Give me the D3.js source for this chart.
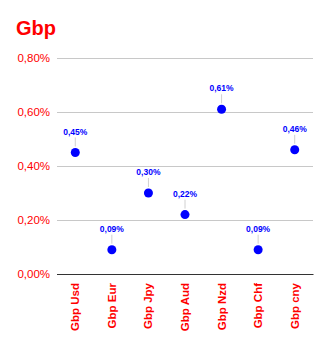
<!DOCTYPE html>
<html><head><meta charset="utf-8">
<script src="https://cdn.jsdelivr.net/npm/d3@7"></script>
<style>body{margin:0;background:#fff}svg{display:block}</style>
</head><body>
<script>
const categories = ["Gbp Usd","Gbp Eur","Gbp Jpy","Gbp Aud","Gbp Nzd","Gbp Chf","Gbp cny"];
const values = [0.45,0.09,0.30,0.22,0.61,0.09,0.46];
const yTicks = [0,0.2,0.4,0.6,0.8];
const title = "Gbp";

const W=329,H=344;
const m={l:57,r:16,t:58,b:70};
const svg=d3.select("body").append("svg").attr("width",W).attr("height",H);
const x=d3.scaleBand().domain(categories).range([m.l,W-m.r]);
const y=d3.scaleLinear().domain([0,0.8]).range([H-m.b,m.t]);
const font="Liberation Sans, Arial, sans-serif";
const fmt=v=>v.toFixed(2).replace(".",",")+"%";

svg.append("text").attr("x",16).attr("y",35).text(title)
 .attr("fill","#ff0000").attr("font-family",font).attr("font-weight","bold").attr("font-size",20);

const ya=svg.append("g").attr("transform",`translate(${m.l},0)`)
 .call(d3.axisLeft(y).tickValues(yTicks).tickSize(-(W-m.l-m.r)).tickPadding(7).tickFormat(fmt));
ya.select(".domain").remove();
ya.selectAll("line").attr("stroke","#c8c8c8");
ya.selectAll("text").attr("fill","#ff0000").attr("font-family",font).attr("font-size",11.5);
ya.selectAll(".tick").filter(d=>d===0).select("line").attr("stroke","#333");

const xa=svg.append("g").attr("transform",`translate(0,${y(0)})`)
 .call(d3.axisBottom(x).tickSize(0).tickPadding(0));
xa.select(".domain").attr("stroke","#333");
xa.selectAll("text").attr("fill","#ff0000").attr("font-family",font).attr("font-weight","bold").attr("font-size",11.5)
 .attr("transform","rotate(-90)").attr("text-anchor","end").attr("dx","-9").attr("dy","0.35em").attr("x",0).attr("y",0);

const g=svg.append("g");
categories.forEach((c,i)=>{
  const cx=x(c)+x.bandwidth()/2, cy=y(values[i]);
  g.append("line").attr("x1",cx).attr("x2",cx).attr("y1",cy-6).attr("y2",cy-15).attr("stroke","#d0d0d0");
  g.append("circle").attr("cx",cx).attr("cy",cy).attr("r",4.5).attr("fill","#0000ff");
  g.append("text").attr("x",cx).attr("y",cy-18).attr("text-anchor","middle").text(fmt(values[i]))
   .attr("fill","#0000ff").attr("font-family",font).attr("font-weight","bold").attr("font-size",8.5);
});
</script>
</body></html>
